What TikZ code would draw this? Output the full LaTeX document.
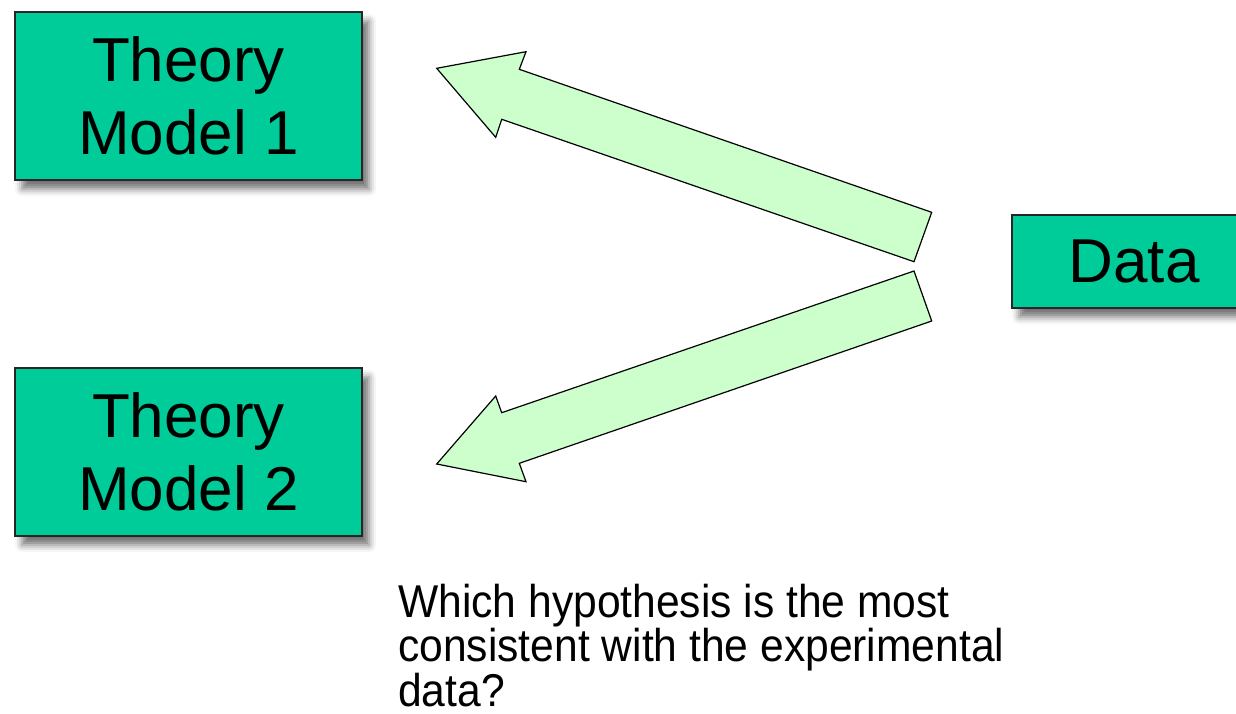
\documentclass[tikz,border=0pt]{standalone}
\usepackage{fontspec}
\setmainfont{Liberation Sans}
\usetikzlibrary{shadows.blur}
\definecolor{boxgreen}{HTML}{00CC99}
\definecolor{arrowgreen}{HTML}{CCFFCC}
\begin{document}
\begin{tikzpicture}[x=1pt,y=-1pt,
  modelbox/.style={draw=black!85, line width=1.2pt, fill=boxgreen,
    minimum width=347pt, minimum height=168pt, align=center, inner sep=0pt,
    font=\fontsize{62}{73}\selectfont,
    blur shadow={shadow xshift=7pt, shadow yshift=-9pt, shadow blur radius=7pt, shadow opacity=55}},
  fatarrow/.style={draw=black, line width=1.2pt, fill=arrowgreen, line join=miter},
  question/.style={anchor=base west, inner sep=0pt, font=\fontsize{42.6}{42.6}\selectfont}]
\useasboundingbox (0,0) rectangle (1236,713);

\node[modelbox] (m1) at (188.5,96) {Theory\\Model 1};
\node[modelbox] (m2) at (188.5,452) {Theory\\Model 2};
\node[modelbox, minimum width=244pt, minimum height=93pt] (data) at (1134,261.5) {Data};

% arrow to model 1
\coordinate (a1tip) at (436.7,68.3);
\coordinate (a1b1) at (526,51.7);
\coordinate (a1i1) at (519.3,69.3);
\coordinate (a1t1) at (931.7,212.3);
\coordinate (a1t2) at (914,261.7);
\coordinate (a1i2) at (501.7,119.3);
\coordinate (a1b2) at (495.7,137.3);
\draw[fatarrow] (a1tip) -- (a1b1) -- (a1i1) -- (a1t1) -- (a1t2) -- (a1i2) -- (a1b2) -- cycle;

% arrow to model 2
\coordinate (a2t1) at (914,271);
\coordinate (a2t2) at (931.7,321);
\coordinate (a2i2) at (519.3,463.3);
\coordinate (a2b2) at (526,481.7);
\coordinate (a2tip) at (436.7,464);
\coordinate (a2b1) at (495.7,396);
\coordinate (a2i1) at (501.7,412.7);
\draw[fatarrow] (a2tip) -- (a2b1) -- (a2i1) -- (a2t1) -- (a2t2) -- (a2i2) -- (a2b2) -- cycle;

\node[question] (q) at (398,617)
  {\scalebox{1}[1.08]{\vtop{\baselineskip=41.6pt\lineskiplimit=-100pt
    \hbox{Which hypothesis is the most}\hbox{consistent with the experimental}\hbox{data?}}}};
\end{tikzpicture}
\end{document}
